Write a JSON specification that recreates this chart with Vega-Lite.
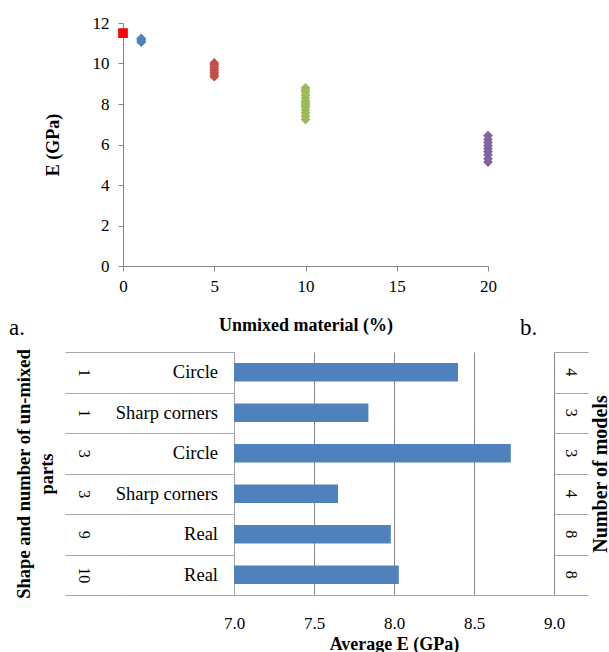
{
  "$schema": "https://vega.github.io/schema/vega-lite/v6.json",
  "background": "white",
  "padding": {"left": 8, "top": 14, "right": 0, "bottom": 0},
  "bounds": "flush",
  "spacing": 86,
  "config": {
    "view": {"stroke": null},
    "font": "Liberation Serif, Times New Roman, serif",
    "text": {"font": "Liberation Serif, Times New Roman, serif"},
    "axis": {
      "labelFont": "Liberation Serif, Times New Roman, serif",
      "titleFont": "Liberation Serif, Times New Roman, serif",
      "labelColor": "#000000",
      "titleColor": "#000000",
      "domainColor": "#868686",
      "tickColor": "#868686",
      "labelFlush": false
    }
  },
  "vconcat": [
    {
      "width": 365,
      "height": 243,
      "data": {"values": [
        {"series": "0%", "pct": 0, "E": 11.5},
        {"series": "1%", "pct": 1, "E": 11.05},
        {"series": "1%", "pct": 1, "E": 11.12},
        {"series": "1%", "pct": 1, "E": 11.18},
        {"series": "1%", "pct": 1, "E": 11.24},
        {"series": "5%", "pct": 5, "E": 9.35},
        {"series": "5%", "pct": 5, "E": 9.45},
        {"series": "5%", "pct": 5, "E": 9.55},
        {"series": "5%", "pct": 5, "E": 9.65},
        {"series": "5%", "pct": 5, "E": 9.75},
        {"series": "5%", "pct": 5, "E": 9.85},
        {"series": "5%", "pct": 5, "E": 9.95},
        {"series": "5%", "pct": 5, "E": 10.03},
        {"series": "10%", "pct": 10, "E": 7.23},
        {"series": "10%", "pct": 10, "E": 7.4},
        {"series": "10%", "pct": 10, "E": 7.55},
        {"series": "10%", "pct": 10, "E": 7.7},
        {"series": "10%", "pct": 10, "E": 7.85},
        {"series": "10%", "pct": 10, "E": 7.95},
        {"series": "10%", "pct": 10, "E": 8.05},
        {"series": "10%", "pct": 10, "E": 8.15},
        {"series": "10%", "pct": 10, "E": 8.3},
        {"series": "10%", "pct": 10, "E": 8.45},
        {"series": "10%", "pct": 10, "E": 8.6},
        {"series": "10%", "pct": 10, "E": 8.72},
        {"series": "10%", "pct": 10, "E": 8.8},
        {"series": "20%", "pct": 20, "E": 5.13},
        {"series": "20%", "pct": 20, "E": 5.3},
        {"series": "20%", "pct": 20, "E": 5.5},
        {"series": "20%", "pct": 20, "E": 5.65},
        {"series": "20%", "pct": 20, "E": 5.8},
        {"series": "20%", "pct": 20, "E": 5.95},
        {"series": "20%", "pct": 20, "E": 6.1},
        {"series": "20%", "pct": 20, "E": 6.25},
        {"series": "20%", "pct": 20, "E": 6.44}
      ]},
      "layer": [
        {
          "mark": {"type": "point", "filled": true, "opacity": 1, "size": 95},
          "encoding": {
            "x": {
              "field": "pct", "type": "quantitative",
              "scale": {"domain": [0, 20], "nice": false},
              "axis": {
                "values": [0, 5, 10, 15, 20], "grid": false, "tickSize": 5,
                "labelFontSize": 17, "labelPadding": 7,
                "title": "Unmixed material (%)", "titleFontSize": 18, "titleFontWeight": "bold",
                "titlePadding": 22
              }
            },
            "y": {
              "field": "E", "type": "quantitative",
              "scale": {"domain": [0, 12], "nice": false},
              "axis": {
                "values": [0, 2, 4, 6, 8, 10, 12], "grid": false, "tickSize": 5,
                "labelFontSize": 17, "labelPadding": 9,
                "title": "E  (GPa)", "titleFontSize": 18, "titleFontWeight": "bold",
                "titlePadding": 30
              }
            },
            "color": {
              "field": "series", "type": "nominal",
              "scale": {"domain": ["0%", "1%", "5%", "10%", "20%"], "range": ["#FF0000", "#4F81BD", "#C0504D", "#9BBB59", "#8064A2"]},
              "legend": null
            },
            "shape": {
              "field": "series", "type": "nominal",
              "scale": {"domain": ["0%", "1%", "5%", "10%", "20%"], "range": ["square", "diamond", "diamond", "diamond", "diamond"]},
              "legend": null
            }
          }
        },
        {
          "data": {"values": [{}]},
          "mark": {"type": "text", "align": "left", "baseline": "alphabetic", "fontSize": 23},
          "encoding": {
            "x": {"datum": -6.25, "type": "quantitative"},
            "y": {"datum": -3.41, "type": "quantitative"},
            "text": {"value": "a."}
          }
        },
        {
          "data": {"values": [{}]},
          "mark": {"type": "text", "align": "left", "baseline": "alphabetic", "fontSize": 23},
          "encoding": {
            "x": {"datum": 21.75, "type": "quantitative"},
            "y": {"datum": -3.41, "type": "quantitative"},
            "text": {"value": "b."}
          }
        }
      ]
    },
    {
      "data": {"values": [
        {"part": "1 Circle", "shape": "Circle", "E": 8.40, "models": "4"},
        {"part": "1 Sharp", "shape": "Sharp corners", "E": 7.84, "models": "3"},
        {"part": "3 Circle", "shape": "Circle", "E": 8.73, "models": "3"},
        {"part": "3 Sharp", "shape": "Sharp corners", "E": 7.65, "models": "4"},
        {"part": "9 Real", "shape": "Real", "E": 7.98, "models": "8"},
        {"part": "10 Real", "shape": "Real", "E": 8.03, "models": "8"}
      ]},
      "spacing": 0,
      "bounds": "flush",
      "hconcat": [
        {
          "width": 111,
          "height": 243,
          "mark": {"type": "text", "align": "right", "baseline": "middle", "dx": -16, "fontSize": 18.5, "color": "#000000"},
          "encoding": {
            "y": {
              "field": "part", "type": "nominal", "sort": null,
              "scale": {"paddingInner": 0, "paddingOuter": 0},
              "axis": {
                "orient": "left",
                "labelExpr": "split(datum.label, ' ')[0]",
                "labelAngle": 90, "labelAlign": "center", "labelBaseline": "middle",
                "labelFontSize": 16, "labelPadding": -18,
                "tickSize": 58, "tickBand": "extent", "tickColor": "#A6A6A6",
                "domain": false,
                "grid": true, "gridColor": "#A6A6A6",
                "title": ["Shape and number of un-mixed", "parts"],
                "titleFontSize": 18.5, "titleFontWeight": "bold", "titleLineHeight": 23,
                "titleAngle": 270, "titleAlign": "center", "titleBaseline": "middle",
                "titleX": -100, "titleY": 121.5
              }
            },
            "x": {"datum": 1, "type": "quantitative", "scale": {"domain": [0, 1]}, "axis": null},
            "text": {"field": "shape"}
          }
        },
        {
          "width": 320,
          "height": 243,
          "mark": {"type": "bar", "color": "#4F81BD", "height": {"band": 0.46}, "clip": true},
          "encoding": {
            "y": {
              "field": "part", "type": "nominal", "sort": null,
              "scale": {"paddingInner": 0, "paddingOuter": 0},
              "axis": {"labels": false, "ticks": false, "domain": true, "domainColor": "#A6A6A6", "grid": false, "title": null}
            },
            "x": {
              "field": "E", "type": "quantitative",
              "scale": {"domain": [7, 9], "nice": false, "zero": false},
              "axis": {
                "values": [7, 7.5, 8, 8.5, 9], "format": ".1f",
                "grid": true, "gridColor": "#868686", "ticks": false,
                "domainColor": "#A6A6A6",
                "labelFontSize": 17, "labelPadding": 20,
                "title": "Average E (GPa)", "titleFontSize": 18, "titleFontWeight": "bold", "titlePadding": 4
              }
            }
          }
        },
        {
          "width": 34,
          "height": 243,
          "mark": {"type": "text", "angle": 90, "align": "center", "baseline": "middle", "fontSize": 16, "color": "#000000"},
          "encoding": {
            "y": {
              "field": "part", "type": "nominal", "sort": null,
              "scale": {"paddingInner": 0, "paddingOuter": 0},
              "axis": {
                "orient": "right", "labels": false, "ticks": false, "domain": false,
                "grid": true, "gridColor": "#A6A6A6", "tickBand": "extent",
                "title": "Number of models", "titleFontSize": 20, "titleFontWeight": "bold",
                "titleAngle": 270, "titleAlign": "center", "titleBaseline": "middle",
                "titleX": 12, "titleY": 121.5
              }
            },
            "x": {"datum": 0.5, "type": "quantitative", "scale": {"domain": [0, 1]}, "axis": null},
            "text": {"field": "models"}
          }
        }
      ]
    }
  ]
}
